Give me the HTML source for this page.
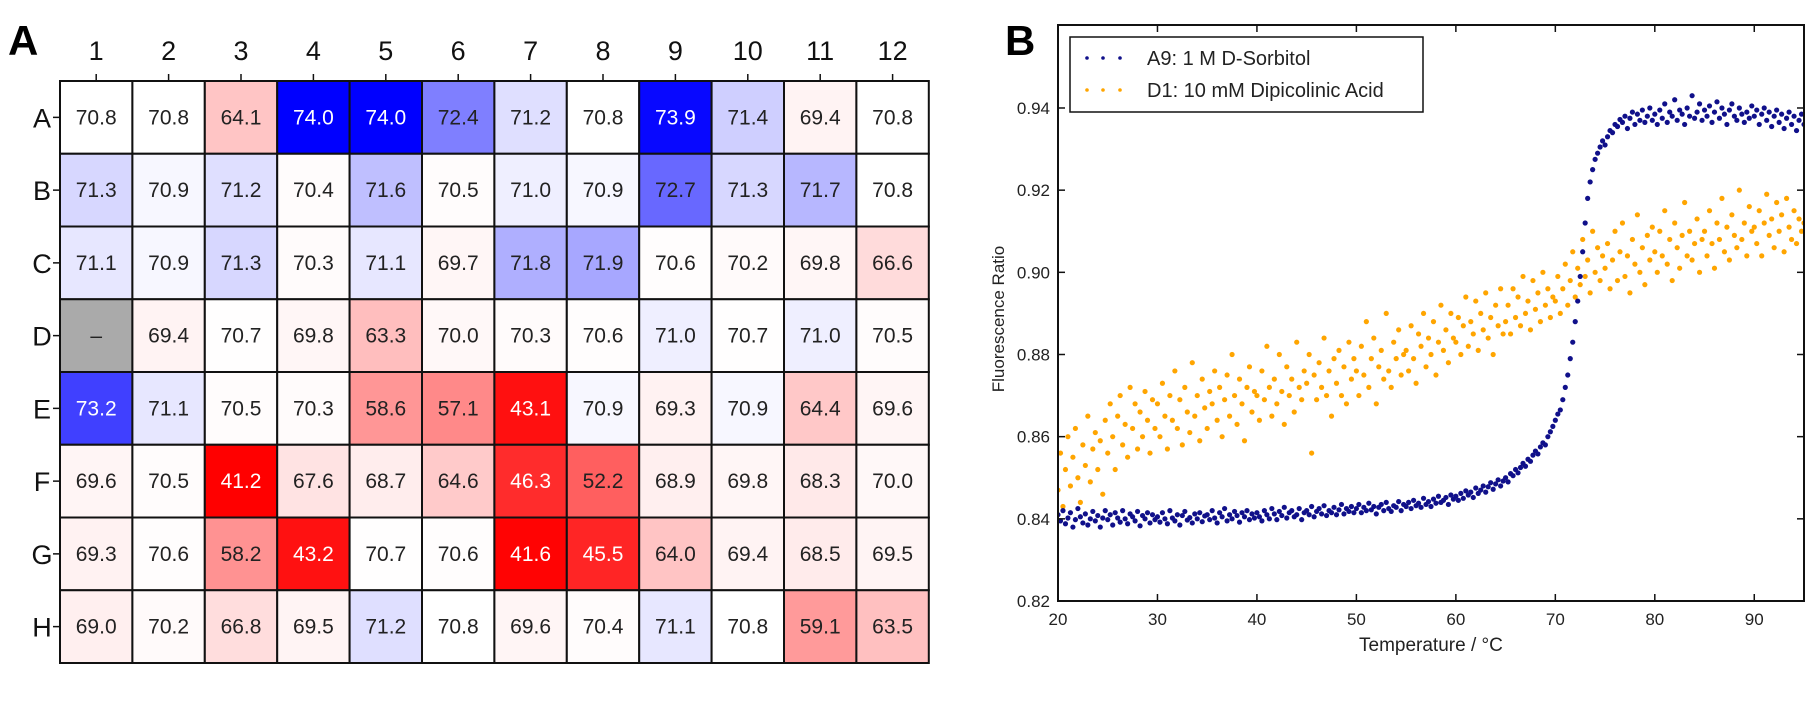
<!DOCTYPE html>
<html><head><meta charset="utf-8"><style>
html,body{margin:0;padding:0;background:#fff;}
svg{display:block;font-family:"Liberation Sans",sans-serif;}
</style></head><body>
<svg id="fig" width="1813" height="725" viewBox="0 0 1813 725">
<text x="8" y="55" font-size="42" font-weight="bold">A</text>
<text x="1005" y="55" font-size="42" font-weight="bold">B</text>
<g id="heat"></g>
<g id="scatter"></g>
</svg>
<script>
const colLabels=["1","2","3","4","5","6","7","8","9","10","11","12"];
const rowLabels=["A","B","C","D","E","F","G","H"];
const rowA=[70.8,70.8,64.1,74.0,74.0,72.4,71.2,70.8,73.9,71.4,69.4,70.8];
const rowB=[71.3,70.9,71.2,70.4,71.6,70.5,71.0,70.9,72.7,71.3,71.7,70.8];
const rowC=[71.1,70.9,71.3,70.3,71.1,69.7,71.8,71.9,70.6,70.2,69.8,66.6];
const rowD=[null,69.4,70.7,69.8,63.3,70.0,70.3,70.6,71.0,70.7,71.0,70.5];
const rowE=[73.2,71.1,70.5,70.3,58.6,57.1,43.1,70.9,69.3,70.9,64.4,69.6];
const rowF=[69.6,70.5,41.2,67.6,68.7,64.6,46.3,52.2,68.9,69.8,68.3,70.0];
const rowG=[69.3,70.6,58.2,43.2,70.7,70.6,41.6,45.5,64.0,69.4,68.5,69.5];
const rowH=[69.0,70.2,66.8,69.5,71.2,70.8,69.6,70.4,71.1,70.8,59.1,63.5];
const plate=[rowA,rowB,rowC,rowD,rowE,rowF,rowG,rowH];

const xTicks=[20,30,40,50,60,70,80,90];
const yTicks=[0.82,0.84,0.86,0.88,0.90,0.92,0.94];
const tStart=20, tStep=0.25;
const sorbitol=[
8410,8395,8420,8388,8402,8415,8380,8398,8425,8405,8390,8412,8385,8400,8418,8395,8408,8380,8402,8420,
8398,8410,8385,8415,8402,8392,8420,8400,8388,8412,8405,8395,8418,8383,8408,8400,8415,8390,8410,8398,
8405,8392,8415,8400,8388,8420,8402,8395,8410,8385,8408,8418,8397,8403,8390,8412,8400,8415,8393,8407,
8410,8398,8420,8402,8390,8415,8405,8425,8395,8410,8400,8418,8408,8392,8415,8405,8420,8398,8412,8402,
8415,8405,8395,8420,8410,8400,8425,8412,8398,8418,8408,8428,8402,8415,8420,8405,8410,8425,8398,8415,
8420,8410,8430,8405,8418,8425,8412,8432,8408,8420,8415,8428,8410,8422,8435,8412,8425,8418,8430,8415,
8425,8435,8415,8428,8420,8438,8422,8430,8412,8428,8435,8420,8440,8425,8418,8432,8428,8442,8420,8435,
8430,8440,8425,8445,8432,8438,8428,8450,8435,8442,8430,8448,8438,8455,8440,8445,8452,8435,8458,8448,
8455,8445,8462,8450,8468,8458,8465,8452,8475,8462,8470,8480,8465,8478,8488,8472,8485,8495,8480,8492,
8500,8490,8510,8505,8520,8512,8525,8535,8528,8545,8540,8555,8565,8558,8575,8585,8580,8600,8612,8625,
8640,8655,8665,8690,8720,8750,8790,8830,8880,8930,8990,9050,9120,9180,9220,9250,9275,9290,9305,9320,
9310,9330,9345,9340,9360,9355,9372,9365,9380,9350,9375,9390,9360,9385,9370,9395,9365,9380,9400,9370,
9385,9360,9395,9375,9410,9365,9390,9380,9420,9370,9395,9385,9360,9400,9380,9430,9375,9390,9410,9370,
9395,9380,9405,9365,9390,9415,9375,9400,9385,9360,9395,9410,9380,9370,9400,9385,9365,9390,9375,9405,
9380,9395,9360,9385,9400,9370,9390,9355,9380,9395,9365,9385,9350,9375,9390,9360,9380,9345,9370,9385,
9360];
const dipicolinic=[
8470,8560,8430,8520,8600,8480,8550,8620,8500,8440,8580,8530,8650,8490,8570,8610,8520,8590,8460,8640,
8560,8680,8600,8520,8650,8700,8580,8630,8550,8720,8620,8680,8570,8660,8600,8710,8640,8560,8690,8620,
8680,8600,8730,8650,8570,8700,8640,8760,8620,8690,8580,8720,8660,8610,8780,8650,8700,8590,8740,8670,
8620,8710,8680,8760,8640,8720,8600,8690,8750,8650,8800,8700,8630,8740,8680,8590,8720,8770,8660,8710,
8700,8640,8760,8690,8820,8720,8650,8740,8680,8800,8710,8630,8770,8700,8740,8660,8830,8720,8690,8760,
8730,8800,8560,8750,8690,8780,8720,8840,8700,8760,8650,8790,8730,8810,8700,8770,8680,8830,8740,8790,
8760,8700,8820,8750,8880,8720,8790,8840,8680,8770,8810,8740,8900,8760,8720,8830,8790,8860,8750,8800,
8810,8760,8870,8790,8730,8850,8820,8900,8770,8840,8800,8880,8750,8830,8920,8810,8860,8780,8900,8840,
8830,8890,8800,8870,8940,8820,8880,8850,8930,8810,8900,8860,8950,8840,8890,8800,8920,8870,8960,8850,
8880,8920,8850,8960,8890,8940,8870,8990,8900,8930,8860,8980,8910,8950,8880,9000,8920,8960,8890,8940,
8930,8990,8900,8960,9020,8920,8980,9050,8940,9010,8970,9080,8990,9030,8950,9100,9000,9060,8980,9040,
9010,9070,8960,9030,9100,8980,9050,9120,8990,9040,8950,9080,9020,9140,9000,9060,8970,9090,9030,9110,
9050,9000,9100,9040,9150,9020,9080,8980,9120,9060,9010,9090,9170,9040,9100,9030,9070,9130,9000,9080,
9100,9040,9150,9070,9010,9120,9080,9180,9050,9110,9030,9140,9090,9060,9200,9080,9120,9040,9160,9100,
9110,9070,9150,9040,9120,9190,9090,9130,9060,9170,9100,9140,9050,9180,9110,9080,9150,9070,9130,9100,
9120];

const NS="http://www.w3.org/2000/svg";
function mk(tag,attrs,parent){const e=document.createElementNS(NS,tag);for(const k in attrs)e.setAttribute(k,attrs[k]);parent.appendChild(e);return e;}

// ---------- heatmap ----------
const heat=document.getElementById('heat');
const hx0=60,hy0=81,cw=72.4,rh=72.75;
const center=70.8,vmax=74.0,vmin=41.2;
function cellColor(v){
  if(v===null) return ['#aaaaaa',0];
  if(v>=center){const t=Math.min(1,(v-center)/(vmax-center));const c=Math.round(255*(1-t));return [`rgb(${c},${c},255)`,t];}
  const t=Math.min(1,(center-v)/(center-vmin));const c=Math.round(255*(1-t));return [`rgb(255,${c},${c})`,t];
}
plate.forEach((row,r)=>{
  row.forEach((v,c)=>{
    const [fill,t]=cellColor(v);
    const rect=mk('rect',{x:hx0+c*cw,y:hy0+r*rh,width:cw,height:rh,fill:fill,stroke:'#111','stroke-width':2},heat);
    
    
    const tx=mk('text',{x:hx0+c*cw+cw/2,y:hy0+r*rh+rh/2+7,'text-anchor':'middle','font-size':21,fill:t>0.7?'#fff':'#222'},heat);
    tx.textContent=v===null?'–':v.toFixed(1);
    
    
  });
});
colLabels.forEach((l,c)=>{
  const x=hx0+c*cw+cw/2;
  const tk=mk('line',{x1:x,x2:x,y1:hy0,y2:hy0-7,stroke:'#111','stroke-width':1.5},heat);
  
  
  const t=mk('text',{x:x,y:60,'text-anchor':'middle','font-size':27,fill:'#111'},heat);
  t.textContent=l;
  
  
});
rowLabels.forEach((l,r)=>{
  const y=hy0+r*rh+rh/2;
  const tk=mk('line',{x1:hx0,x2:hx0-7,y1:y,y2:y,stroke:'#111','stroke-width':1.5},heat);
  
  
  const t=mk('text',{x:42,y:y+10,'text-anchor':'middle','font-size':27,fill:'#111'},heat);
  t.textContent=l;
  
  
});

// ---------- scatter ----------
const sc=document.getElementById('scatter');
const px0=1058,px1=1804,py0=25,py1=601;
const xMin=20,xMax=95,yMin=0.82,yMax=0.9602;
const xs=t=>px0+(t-xMin)/(xMax-xMin)*(px1-px0);
const ys=v=>py1-(v-yMin)/(yMax-yMin)*(py1-py0);
const clip=mk('clipPath',{id:'pc'},sc);mk('rect',{x:px0,y:py0,width:px1-px0,height:py1-py0},clip);
const dots=mk('g',{'clip-path':'url(#pc)'},sc);


function series(arr,color,name){
  arr.forEach((v,i)=>{
    const c=mk('circle',{cx:xs(tStart+i*tStep),cy:ys(v/10000),r:2.6,fill:color},dots);
    
    
  });
}
series(dipicolinic,'#ffa500','dipicolinic');
series(sorbitol,'#10108a','sorbitol');
const frame=mk('rect',{x:px0,y:py0,width:px1-px0,height:py1-py0,fill:'none',stroke:'#111','stroke-width':2},sc);


xTicks.forEach(t=>{
  const x=xs(t);
  mk('line',{x1:x,x2:x,y1:py1,y2:py1-7,stroke:'#111','stroke-width':1.5},sc);
  mk('line',{x1:x,x2:x,y1:py0,y2:py0+7,stroke:'#111','stroke-width':1.5},sc);
  const l=mk('text',{x:x,y:625,'text-anchor':'middle','font-size':17,fill:'#222'},sc);
  l.textContent=t;
  
  
});
yTicks.forEach(v=>{
  const y=ys(v);
  mk('line',{x1:px0,x2:px0+7,y1:y,y2:y,stroke:'#111','stroke-width':1.5},sc);
  mk('line',{x1:px1,x2:px1-7,y1:y,y2:y,stroke:'#111','stroke-width':1.5},sc);
  const l=mk('text',{x:1050,y:y+6,'text-anchor':'end','font-size':17,fill:'#222'},sc);
  l.textContent=v.toFixed(2);
  
  
});
const xl=mk('text',{x:1359,y:651,'font-size':19,fill:'#222'},sc);
xl.textContent='Temperature / °C';


const yl=mk('text',{x:0,y:0,'font-size':17,fill:'#222','text-anchor':'middle',transform:'translate(1004,319) rotate(-90)'},sc);
yl.textContent='Fluorescence Ratio';


// legend
const lg=mk('g',{},sc);


mk('rect',{x:1070,y:37,width:353,height:75,fill:'#fff',stroke:'#111','stroke-width':1.5},lg);
[['A9: 1 M D-Sorbitol','#10108a',58],['D1: 10 mM Dipicolinic Acid','#ffa500',90]].forEach(([txt,col,y])=>{
  const e=mk('g',{},lg);
  
  
  [1087,1103,1120].forEach(x=>mk('circle',{cx:x,cy:y,r:1.8,fill:col},e));
  const t=mk('text',{x:1147,y:y+7,'font-size':20,fill:'#222'},e);
  t.textContent=txt;
});
</script>
</body></html>
